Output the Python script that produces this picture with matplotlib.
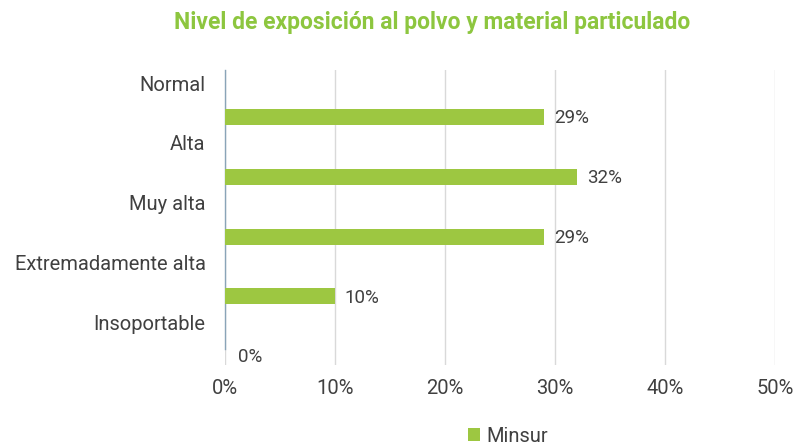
import matplotlib.pyplot as plt
from matplotlib.ticker import FuncFormatter

categorias = ["Normal", "Alta", "Muy alta", "Extremadamente alta", "Insoportable"]
valores = [29, 32, 29, 10, 0]
etiquetas = ["29%", "32%", "29%", "10%", "0%"]

verde = "#9dc741"
gris = "#404040"

plt.rcParams["font.family"] = ["Roboto", "DejaVu Sans"]

fig = plt.figure(figsize=(7.93, 4.45), dpi=100)
ax = fig.add_axes([225 / 793, 1 - 365 / 445, 550 / 793, 295 / 445])

pos = list(range(len(categorias)))
pos_barras = [p + 0.57 for p in pos]

ax.barh(pos_barras, valores, height=0.27, color=verde, label="Minsur", zorder=3)
for y, v, t in zip(pos_barras, valores, etiquetas):
    ax.text(v + 0.9 if v > 0 else 1.2, y + 0.02, t,
            va="center", ha="left", fontsize=13.5, color=gris)

ax.set_ylim(4.72, -0.22)
ax.set_yticks(pos)
ax.set_yticklabels(categorias, fontsize=14.5, color=gris)
ax.set_xlim(0, 50)
ax.set_xticks([0, 10, 20, 30, 40, 50])
ax.xaxis.set_major_formatter(FuncFormatter(lambda x, _: f"{x:.0f}%"))
ax.tick_params(axis="x", labelsize=14.5, labelcolor=gris, length=0, pad=10)
ax.tick_params(axis="y", length=0, pad=14)

ax.grid(axis="x", color="#d9d9d9", linewidth=1, zorder=0)
for s in ["top", "right", "bottom"]:
    ax.spines[s].set_visible(False)
ax.spines["left"].set_color("#8aa4b8")
ax.spines["left"].set_linewidth(1)
ax.spines["left"].set_bounds(-0.22, 4.45)

fig.text(432 / 793, 1 - 22 / 445, "Nivel de exposición al polvo y material particulado",
         ha="center", va="center", fontsize=16.5, fontweight="bold", color="#8dc63f")

fig.legend(loc="center", bbox_to_anchor=(508 / 793, 1 - 436 / 445), frameon=False,
           fontsize=14.5, handlelength=0.6, handleheight=0.6, handletextpad=0.3,
           labelcolor=gris)

fig.savefig("out.png", dpi=100)
